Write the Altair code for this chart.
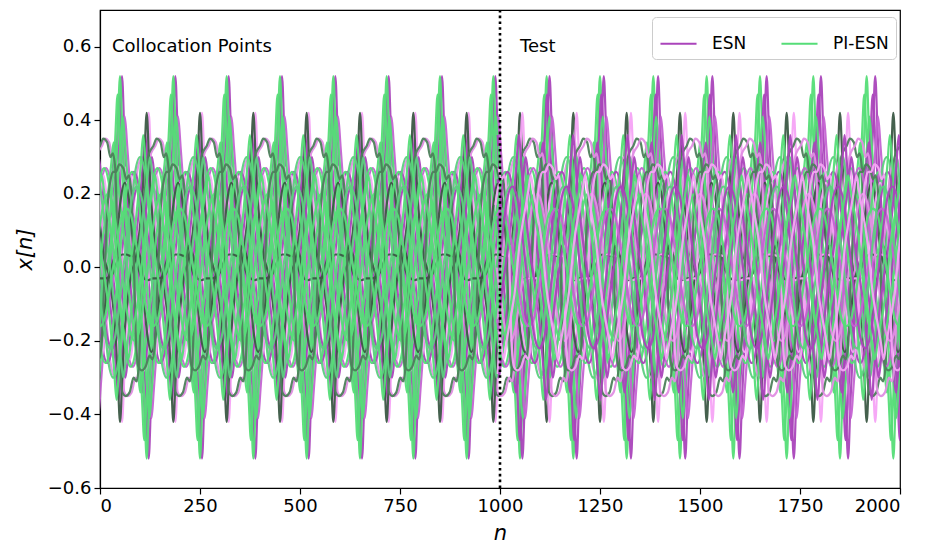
import altair as alt
import pandas as pd

# ---------------- values ----------------
PERIOD = 133.33          # spacing of successive 0.52 peaks along n
ESN_LAG_TRAIN = 5.0      # ESN curves trail the PI-ESN curves by ~5 steps up to n = 1000
ESN_LAG_END = 22.5       # ... and by ~22 steps at n = 2000
SPLIT_N = 1000           # end of the collocation window (dotted line)
N_MAX = 2000

# keypoint offsets (in n, relative to each curve's peak) for the kinds of waveform seen
SPIKE_OFF = [-28, -20, -12, -6, 0, 6, 12, 20, 28, 33.3, 38.7, 46.7, 54.7, 60.7,
             66.7, 72.7, 78.7, 86.7, 94.7, 100]
ROUND_OFF = [-33.3, -22, -12, 0, 12, 22, 33.3, 44.7, 54.7, 66.7, 78.7, 88.7]
WAVY_OFF = [0, 8, 18, 26, 32, 38, 44, 50, 56, 64, 74, 84, 91, 97, 104, 112, 120, 127]
STEP_OFF = [0, 15, 30, 45, 55, 65, 80, 90, 100, 110, 120]

# values at those keypoints, one list per reservoir state
spike_52 = [0.03, 0.10, 0.22, 0.36, 0.52, 0.36, 0.22, 0.10, 0.03, 0.00,
            -0.03, -0.10, -0.22, -0.36, -0.52, -0.36, -0.22, -0.10, -0.03, 0.00]
spike_47 = [0.05, 0.13, 0.24, 0.35, 0.47, 0.35, 0.24, 0.13, 0.05, 0.00,
            -0.05, -0.13, -0.24, -0.35, -0.47, -0.35, -0.24, -0.13, -0.05, 0.00]
spike_42 = [0.02, 0.08, 0.17, 0.29, 0.42, 0.29, 0.17, 0.08, 0.02, 0.00,
            -0.02, -0.08, -0.17, -0.29, -0.42, -0.29, -0.17, -0.08, -0.02, 0.00]
spike_41 = [0.06, 0.14, 0.24, 0.33, 0.41, 0.33, 0.24, 0.14, 0.06, 0.00,
            -0.06, -0.14, -0.24, -0.33, -0.41, -0.33, -0.24, -0.14, -0.06, 0.00]
spike_36 = [0.04, 0.11, 0.20, 0.28, 0.36, 0.28, 0.20, 0.11, 0.04, 0.00,
            -0.04, -0.11, -0.20, -0.28, -0.36, -0.28, -0.20, -0.11, -0.04, 0.00]
spike_34 = [0.07, 0.14, 0.22, 0.28, 0.34, 0.28, 0.22, 0.14, 0.07, 0.00,
            -0.07, -0.14, -0.22, -0.28, -0.34, -0.28, -0.22, -0.14, -0.07, 0.00]
spike_30 = [0.05, 0.12, 0.19, 0.25, 0.30, 0.25, 0.19, 0.12, 0.05, 0.00,
            -0.05, -0.12, -0.19, -0.25, -0.30, -0.25, -0.19, -0.12, -0.05, 0.00]
spike_25 = [0.06, 0.12, 0.17, 0.21, 0.25, 0.21, 0.17, 0.12, 0.06, 0.00,
            -0.06, -0.12, -0.17, -0.21, -0.25, -0.21, -0.17, -0.12, -0.06, 0.00]
round_30 = [0.00, 0.15, 0.26, 0.30, 0.26, 0.15, 0.00, -0.15, -0.26, -0.30, -0.26, -0.15]
round_27 = [0.00, 0.14, 0.23, 0.27, 0.23, 0.14, 0.00, -0.14, -0.23, -0.27, -0.23, -0.14]
round_26 = [0.00, 0.13, 0.22, 0.26, 0.22, 0.13, 0.00, -0.13, -0.22, -0.26, -0.22, -0.13]
arch_23 = [0.00, 0.05, 0.17, 0.23, 0.17, 0.05, 0.00, -0.05, -0.17, -0.23, -0.17, -0.05]
round_22 = [0.00, 0.11, 0.19, 0.22, 0.19, 0.11, 0.00, -0.11, -0.19, -0.22, -0.19, -0.11]
round_20 = [0.00, 0.10, 0.17, 0.20, 0.17, 0.10, 0.00, -0.10, -0.17, -0.20, -0.17, -0.10]
round_16 = [0.00, 0.08, 0.14, 0.16, 0.14, 0.08, 0.00, -0.08, -0.14, -0.16, -0.14, -0.08]
wavy_35 = [0.33, 0.35, 0.34, 0.30, 0.31, 0.27, 0.05, -0.25, -0.34, -0.35, -0.34, -0.30,
           -0.31, -0.27, -0.05, 0.20, 0.30, 0.32]
wavy_28 = [0.26, 0.28, 0.27, 0.24, 0.25, 0.21, 0.04, -0.20, -0.27, -0.28, -0.27, -0.24,
           -0.25, -0.21, -0.04, 0.16, 0.24, 0.26]
step_03 = [-0.03, -0.03, -0.02, 0.02, 0.035, 0.035, 0.03, 0.06, 0.03, -0.03, -0.035]

# curve name, PI-ESN shade, ESN shade, phase of peak, offsets, values
curve_name = ["c01", "c02", "c03", "c04", "c05", "c06", "c07", "c08", "c09",
              "c10", "c11", "c12", "c13", "c14", "c15", "c16", "c17", "c18"]
pi_shade = ["PI-ESN", "g_dark", "PI-ESN", "PI-ESN", "PI-ESN", "g_light", "g_dark",
            "g_med", "g_dark", "PI-ESN", "PI-ESN", "g_light", "PI-ESN", "g_med",
            "PI-ESN", "PI-ESN", "g_light", "PI-ESN"]
esn_shade = ["ESN", "e_pink", "ESN", "e_violet", "ESN", "e_pink2", "e_pink",
             "e_pink2", "e_pink", "ESN", "e_violet", "ESN", "e_pink2", "e_pink",
             "ESN", "e_violet", "ESN", "e_pink"]
peak_phase = [50, 116.7, 44, 57, 34, 100, 62, 0, 0, 80, 10, 125, 20, 40,
              108, 66, 92, 4]
offsets = [SPIKE_OFF, SPIKE_OFF, SPIKE_OFF, SPIKE_OFF, SPIKE_OFF, ROUND_OFF, ROUND_OFF,
           WAVY_OFF, STEP_OFF, ROUND_OFF, ROUND_OFF, SPIKE_OFF, ROUND_OFF, WAVY_OFF,
           SPIKE_OFF, ROUND_OFF, ROUND_OFF, SPIKE_OFF]
values = [spike_52, spike_42, spike_47, spike_41, spike_34, round_30, arch_23,
          wavy_35, step_03, round_26, round_27, spike_30, round_20, wavy_28,
          spike_36, round_16, round_22, spike_25]

shade_domain = ["ESN", "PI-ESN", "e_violet", "e_pink", "e_pink2",
                "g_light", "g_med", "g_dark"]
shade_range = ["#aa44bb", "#55dd77", "#c463d2", "#f5a3f5", "#e08ee3",
               "#5ccf7f", "#4d7f5b", "#3b5944"]


def esn_time(s):
    """position of an ESN keypoint whose PI-ESN counterpart sits at s"""
    if s + ESN_LAG_TRAIN <= SPLIT_N:
        return s + ESN_LAG_TRAIN
    rate = (ESN_LAG_END - ESN_LAG_TRAIN) / (N_MAX - SPLIT_N)
    return (s + ESN_LAG_TRAIN - rate * SPLIT_N) / (1 - rate)


def curve_rows(model, name, shade, ph, offs, vals):
    pts = []
    for k in range(-1, 17):
        for o, v in zip(offs, vals):
            s = k * PERIOD + ph + o
            if -200 <= s <= N_MAX + 200:
                n = s if model == "pi" else esn_time(s)
                pts.append((n, v))
    pts.sort()
    last_train = max(i for i, p in enumerate(pts) if p[0] <= SPLIT_N)
    train, test = [], []
    for i, (n, v) in enumerate(pts):
        row = {"curve": model + name, "n": n, "x": v, "shade": shade}
        if i <= last_train + 1:
            train.append(row)
        if i >= last_train:
            test.append(row)
    return train, test


esn_train, pi_train, test_rows = [], [], []
for name, gs, es, ph, offs, vals in zip(curve_name, pi_shade, esn_shade,
                                        peak_phase, offsets, values):
    tr_p, te_p = curve_rows("pi", name, gs, ph, offs, vals)
    tr_e, te_e = curve_rows("esn", name, es, ph, offs, vals)
    pi_train += tr_p
    esn_train += tr_e
    # in the test window each PI-ESN state is followed by its ESN counterpart
    test_rows += te_p + te_e

esn_train_df = pd.DataFrame(esn_train)
pi_train_df = pd.DataFrame(pi_train)
test_df = pd.DataFrame(test_rows)

FONT = "DejaVu Sans"
x_scale = alt.Scale(domain=[0, N_MAX], nice=False, zero=False)
y_scale = alt.Scale(domain=[-0.6, 0.7], nice=False, zero=False)
color_scale = alt.Scale(domain=shade_domain, range=shade_range)

legend = alt.Legend(
    values=["ESN", "PI-ESN"], title=None, orient="none", legendX=552, legendY=7,
    direction="horizontal", symbolType="stroke", symbolStrokeWidth=2.2,
    symbolSize=1300, labelFontSize=17, labelFont=FONT, labelOffset=14,
    columnPadding=30, padding=7, fillColor="white", strokeColor="#cccccc",
    cornerRadius=4, symbolOpacity=1,
)

x_enc = alt.X("n:Q", scale=x_scale, axis=alt.Axis(
    values=[0, 250, 500, 750, 1000, 1250, 1500, 1750, 2000], format="d", title="n",
    titleFontStyle="italic"))
y_enc = alt.Y("x:Q", scale=y_scale, axis=alt.Axis(
    values=[-0.6, -0.4, -0.2, 0.0, 0.2, 0.4, 0.6], format=".1f", title="x[n]",
    titleFontStyle="italic"))


def lines(df):
    return alt.Chart(df).mark_line(
        interpolate="monotone", strokeWidth=2.2, opacity=0.95, clip=True
    ).encode(
        x=x_enc, y=y_enc, detail="curve:N",
        color=alt.Color("shade:N", scale=color_scale, legend=legend),
    )


split_df = pd.DataFrame({"n": [SPLIT_N]})
split_rule = alt.Chart(split_df).mark_rule(
    color="black", strokeWidth=2.6, strokeDash=[2.6, 3.2]
).encode(x=alt.X("n:Q", scale=x_scale), y=alt.datum(-0.6), y2=alt.datum(0.7))

labels_df = pd.DataFrame({"n": [30, 1050], "x": [0.6, 0.6],
                          "label": ["Collocation Points", "Test"]})
labels = alt.Chart(labels_df).mark_text(
    align="left", baseline="middle", fontSize=18, font=FONT, color="black"
).encode(x=alt.X("n:Q", scale=x_scale), y=alt.Y("x:Q", scale=y_scale), text="label:N")

chart = alt.layer(
    lines(esn_train_df), lines(pi_train_df), lines(test_df),
    split_rule, labels,
).properties(
    width=800, height=478,
    autosize=alt.AutoSizeParams(type="none"),
    padding={"left": 100, "top": 10, "right": 28, "bottom": 55},
).configure_view(
    stroke="black", strokeWidth=1.2
).configure_axis(
    grid=False, domainColor="black", domainWidth=1.2, tickColor="black",
    tickSize=6, tickWidth=1.2, labelFont=FONT, labelFontSize=18, labelColor="black",
    titleFont=FONT, titleFontSize=21, titleFontWeight="normal", titleColor="black",
    labelPadding=3,
).configure_axisX(titlePadding=7).configure_axisY(titlePadding=12)

chart.save("out.html", embed_options={"renderer": "svg", "actions": False})
